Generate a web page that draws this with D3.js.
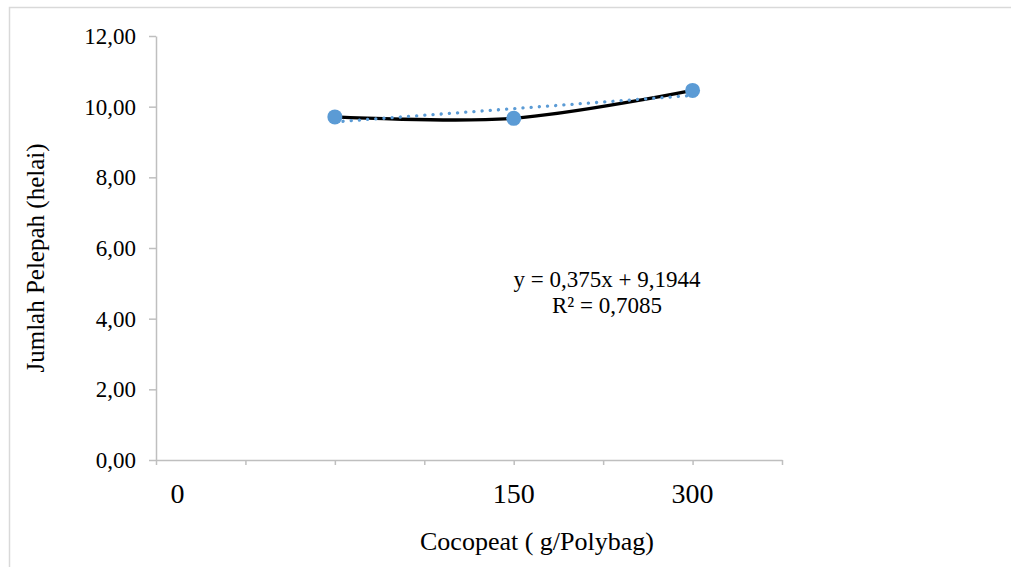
<!DOCTYPE html>
<html>
<head>
<meta charset="utf-8">
<script src="https://cdn.jsdelivr.net/npm/d3@7/dist/d3.min.js"></script>
<style>
  body { margin: 0; background: #fff; }
  svg { display: block; }
  text { font-family: "Liberation Serif", "Times New Roman", serif !important; fill: #000; }
</style>
</head>
<body>
<div id="chart"></div>
<script>
// chart data (category index 1..3 on the x axis)
var categories = ["0", "150", "300"];
var catIndex = [1, 2, 3];
var jumlahPelepah = [9.71, 9.67, 10.46];
var yTicks = [0, 2, 4, 6, 8, 10, 12];
var xTickSteps = [0, 0.5, 1, 1.5, 2, 2.5, 3, 3.5];
// where each category label sits on the axis (the "0" label is offset in the source)
var labelAt = [0.12, 2, 3];
var trendSlope = 0.375, trendIntercept = 9.1944, trendR2 = "0,7085";

var width = 1011, height = 567;
var svg = d3.select("#chart").append("svg")
  .attr("width", width)
  .attr("height", height);

// outer chart frame (only top and left edges are visible)
svg.append("path")
  .attr("d", "M9.5,567 V7.5 H1011")
  .attr("fill", "none")
  .attr("stroke", "#d9d9d9")
  .attr("stroke-width", 1.5);

var x = d3.scaleLinear().domain([0, 3.5]).range([156, 782]);
var y = d3.scaleLinear().domain([0, 12]).range([460, 36]);

var comma = d3.formatLocale({decimal: ",", thousands: ".", grouping: [3], currency: ["", ""]}).format(".2f");

// y axis
var yAxis = svg.append("g")
  .attr("transform", "translate(156,0)")
  .call(d3.axisLeft(y).tickValues(yTicks).tickFormat(comma).tickSize(7).tickSizeOuter(0).tickPadding(13))
  .attr("font-family", null)
  .attr("font-size", 23);
yAxis.selectAll("path, line").attr("stroke", "#bfbfbf").attr("stroke-width", 1.5);

// x axis (ticks only, labels drawn separately)
var xAxis = svg.append("g")
  .attr("transform", "translate(0,460)")
  .call(d3.axisBottom(x).tickValues(xTickSteps).tickFormat("").tickSize(5).tickSizeOuter(0));
xAxis.selectAll("path, line").attr("stroke", "#bfbfbf").attr("stroke-width", 1.5);

svg.selectAll(".xlab")
  .data(categories)
  .enter().append("text")
  .attr("class", "xlab")
  .attr("x", function(d, i){ return x(labelAt[i]); })
  .attr("y", 503)
  .attr("text-anchor", "middle")
  .style("font-size", "28px")
  .text(function(d){ return d; });

// axis titles
svg.append("text")
  .attr("transform", "translate(44,258) rotate(-90)")
  .attr("text-anchor", "middle")
  .style("font-size", "25px")
  .text("Jumlah Pelepah (helai)");

svg.append("text")
  .attr("x", 537)
  .attr("y", 550)
  .attr("text-anchor", "middle")
  .style("font-size", "26px")
  .text("Cocopeat ( g/Polybag)");

var points = catIndex.map(function(c, i){ return {x: c, y: jumlahPelepah[i]}; });

// smoothed data line
var line = d3.line()
  .x(function(d){ return x(d.x); })
  .y(function(d){ return y(d.y); })
  .curve(d3.curveCatmullRom.alpha(0.5));

svg.append("path")
  .datum(points)
  .attr("d", line)
  .attr("fill", "none")
  .attr("stroke", "#000")
  .attr("stroke-width", 3.3);

// linear trendline
var trend = [catIndex[0], catIndex[catIndex.length - 1]].map(function(c){
  return {x: c, y: trendSlope * c + trendIntercept};
});
svg.append("path")
  .datum(trend)
  .attr("d", d3.line().x(function(d){ return x(d.x); }).y(function(d){ return y(d.y); }))
  .attr("fill", "none")
  .attr("stroke", "#5b9bd5")
  .attr("stroke-width", 3.3)
  .attr("stroke-linecap", "round")
  .attr("stroke-dasharray", "0.1 8.1");

// markers
svg.selectAll(".pt")
  .data(points)
  .enter().append("circle")
  .attr("class", "pt")
  .attr("cx", function(d){ return x(d.x); })
  .attr("cy", function(d){ return y(d.y); })
  .attr("r", 7.5)
  .attr("fill", "#5b9bd5");

// trendline equation
var eq = svg.append("text")
  .attr("text-anchor", "middle")
  .style("font-size", "23px");
eq.append("tspan").attr("x", 607).attr("y", 287)
  .text("y = 0,375x + " + String(trendIntercept).replace(".", ","));
eq.append("tspan").attr("x", 607).attr("y", 313)
  .text("R² = " + trendR2);
</script>
</body>
</html>
